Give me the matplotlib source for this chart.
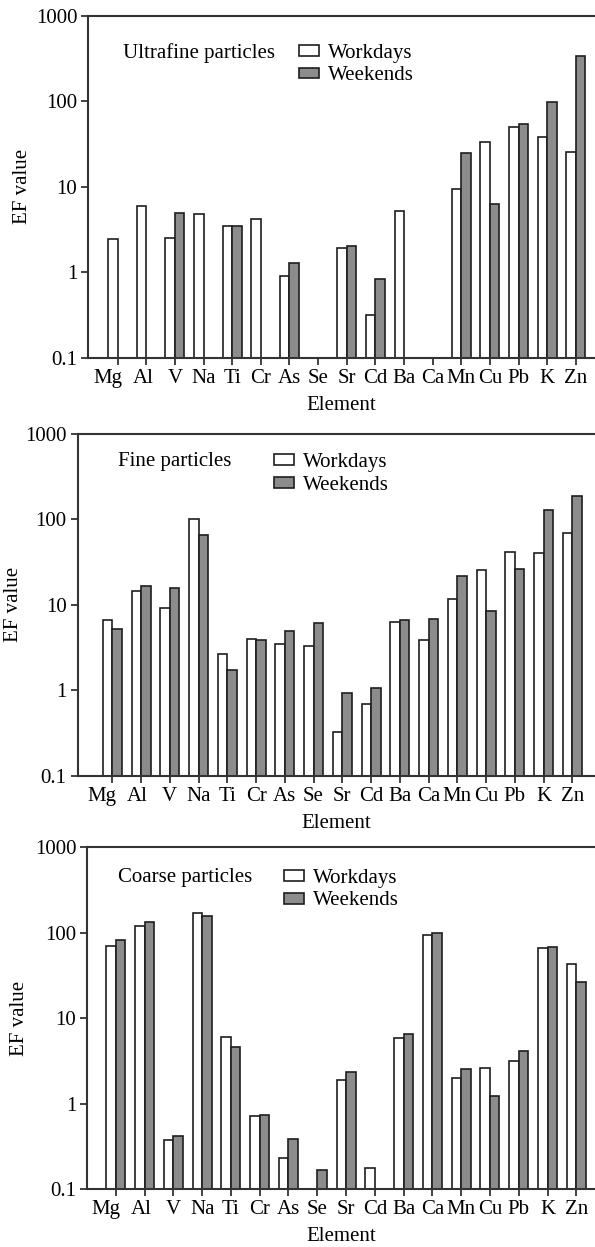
import matplotlib.pyplot as plt
import matplotlib.transforms as mtransforms
from matplotlib.patches import Patch
import numpy as np

plt.rcParams['font.family'] = ['Liberation Serif', 'DejaVu Serif']
plt.rcParams['font.size'] = 15

elements = ['Mg', 'Al', 'V', 'Na', 'Ti', 'Cr', 'As', 'Se', 'Sr', 'Cd',
            'Ba', 'Ca', 'Mn', 'Cu', 'Pb', 'K', 'Zn']
nan = np.nan

# ultrafine
uf_work = [2.43, 6.0, 2.54, 4.85, 3.5, 4.24, 0.90, nan, 1.9, 0.316,
           5.2, nan, 9.35, 33.2, 50.6, 38.0, 25.8]
uf_wknd = [nan, nan, 5.0, nan, 3.5, nan, 1.27, nan, 2.05, 0.83,
           nan, nan, 25.1, 6.35, 54.9, 98.5, 340]
# fine
f_work = [6.59, 14.4, 9.18, 101, 2.68, 3.98, 3.45, 3.33, 0.324, 0.684,
          6.35, 3.91, 11.8, 25.3, 41.6, 40.8, 69.3]
f_wknd = [5.26, 16.6, 15.6, 65.8, 1.74, 3.91, 4.99, 6.18, 0.93, 1.05,
          6.64, 6.83, 21.8, 8.39, 26.5, 129, 186]
# coarse
c_work = [70, 121, 0.375, 172, 6.02, 0.722, 0.229, nan, 1.905, 0.178,
          5.91, 93.3, 1.98, 2.59, 3.15, 66.9, 42.7]
c_wknd = [83, 132, 0.417, 157, 4.56, 0.741, 0.385, 0.168, 2.32, nan,
          6.59, 98.5, 2.52, 1.23, 4.09, 68.7, 26.3]

# title, series, axes rect, xlim, title pos, legend pos, ylabel x
panels = [
    ('Ultrafine particles', uf_work, uf_wknd, [0.1486, 0.7132, 0.8514, 0.2740],
     (-1.02, 16.67), (0.069, 0.892), (0.415, 0.8575), -0.130),
    ('Fine particles', f_work, f_wknd, [0.1308, 0.3780, 0.8692, 0.2740],
     (-1.20, 16.79), (0.077, 0.918), (0.379, 0.883), -0.125),
    ('Coarse particles', c_work, c_wknd, [0.1467, 0.0465, 0.8533, 0.2740],
     (-0.99, 16.65), (0.060, 0.913), (0.387, 0.876), -0.133),
]

fig = plt.figure(figsize=(5.95, 12.47), dpi=100)
x = np.arange(len(elements))
w = 0.33
edge = '#1e1e1e'
grey = '#8c8c8c'
spine_c = '#333333'

for title, work, wknd, rect, xl, tpos, lpos, ylx in panels:
    ax = fig.add_axes(rect)
    ax.set_yscale('log')
    ax.bar(x - w / 2, work, w, color='white', edgecolor=edge, linewidth=1.2)
    ax.bar(x + w / 2, wknd, w, color=grey, edgecolor=edge, linewidth=1.2)
    ax.set_ylim(0.1, 1000)
    ax.set_xlim(*xl)
    ax.set_yticks([0.1, 1, 10, 100, 1000])
    ax.set_yticklabels(['0.1', '1', '10', '100', '1000'])
    ax.minorticks_off()
    ax.set_xticks(x)
    ax.set_xticklabels(elements)
    ax.tick_params(direction='out', length=5, width=1.3, color=spine_c, pad=3)
    ax.tick_params(axis='x', pad=3)
    # first labels sit a little left of their ticks in the original
    for lab, dx in zip(ax.get_xticklabels()[:2], [-10, -3.5]):
        lab.set_transform(lab.get_transform() +
                          mtransforms.ScaledTranslation(dx / 100, 0, fig.dpi_scale_trans))
    for s in ['left', 'top', 'bottom']:
        ax.spines[s].set_linewidth(1.5)
        ax.spines[s].set_color(spine_c)
    ax.spines['right'].set_visible(False)
    ax.set_xlabel('Element', labelpad=6)
    ax.set_ylabel('EF value')
    ax.yaxis.label.set_va('center')
    ax.yaxis.set_label_coords(ylx, 0.5)
    ax.text(tpos[0], tpos[1], title, transform=ax.transAxes, va='center', ha='left')
    handles = [Patch(facecolor='white', edgecolor=edge, linewidth=1.2, label='Workdays'),
               Patch(facecolor=grey, edgecolor=edge, linewidth=1.2, label='Weekends')]
    ax.legend(handles=handles, loc='center left', bbox_to_anchor=lpos,
              frameon=False, handlelength=0.96, handleheight=0.43, handletextpad=0.46,
              labelspacing=0.17, borderaxespad=0, borderpad=0)

fig.savefig('out.png', dpi=100)
